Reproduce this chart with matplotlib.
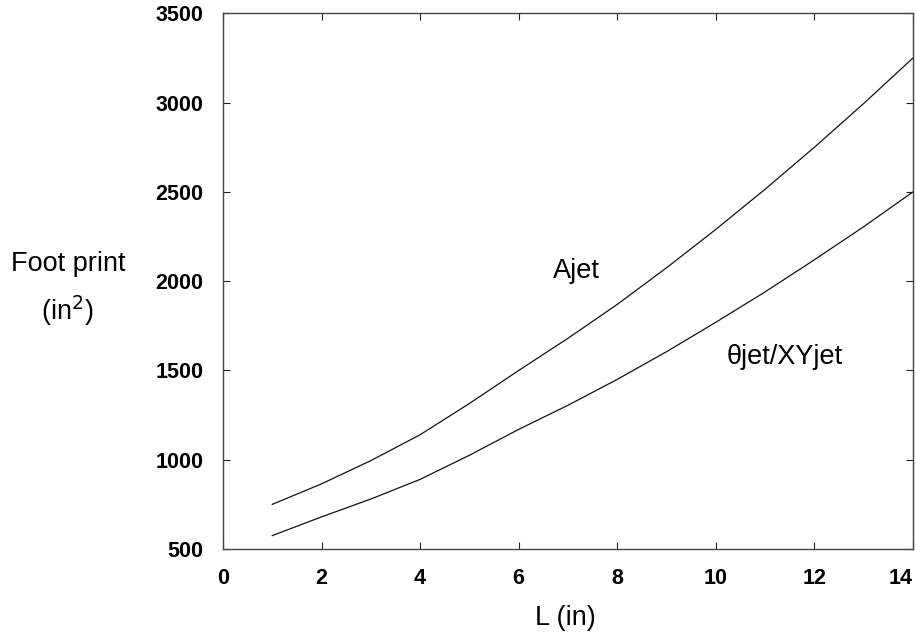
import matplotlib
matplotlib.use('Agg')
import matplotlib.pyplot as plt

plt.rcParams['font.family'] = ['Liberation Sans', 'DejaVu Sans']

# values
L_in = [1, 2, 3, 4, 5, 6, 7, 8, 9, 10, 11, 12, 13, 14]
ajet = [750, 865, 995, 1140, 1315, 1500, 1680, 1870, 2075, 2290, 2515, 2750, 2995, 3250]
theta_xy_jet = [575, 680, 780, 890, 1025, 1170, 1305, 1450, 1605, 1770, 1940, 2120, 2305, 2500]

x_ticks = [0, 2, 4, 6, 8, 10, 12, 14]
y_ticks = [500, 1000, 1500, 2000, 2500, 3000, 3500]

fig = plt.figure(figsize=(9.16, 6.35), dpi=100)
ax = fig.add_axes([0.2434, 0.1354, 0.7533, 0.8436])

ax.plot(L_in, ajet, color='#111111', lw=0.9)
ax.plot(L_in, theta_xy_jet, color='#111111', lw=0.9)

ax.set_xlim(0, 14)
ax.set_ylim(500, 3500)
ax.set_xticks(x_ticks)
ax.set_yticks(y_ticks)
ax.tick_params(direction='in', length=5, width=0.8, top=True, right=True,
               labelsize=15.5, pad=14, colors='#222222', labelcolor='black')
for lab in ax.get_xticklabels() + ax.get_yticklabels():
    lab.set_fontweight('bold')
# the last x label sits flush with the right edge in the original
ax.get_xticklabels()[-1].set_ha('right')
for s in ax.spines.values():
    s.set_linewidth(1.0)
    s.set_color('#444444')

ax.text(6.7, 2057, 'Ajet', fontsize=19.5, ha='left', va='center')
ax.text(10.22, 1576, '\u03b8jet/XYjet', fontsize=19.5, ha='left', va='center')

fig.text(68 / 916, 1 - 264 / 635, 'Foot print', fontsize=19.5, ha='center', va='center')
fig.text(67 / 916, 1 - 311 / 635, '(in$^2$)', fontsize=19.5, ha='center', va='center')
fig.text(565 / 916, 1 - 618 / 635, 'L (in)', fontsize=19.5, ha='center', va='center')

fig.savefig('out.png', dpi=100)
plt.close('all')
